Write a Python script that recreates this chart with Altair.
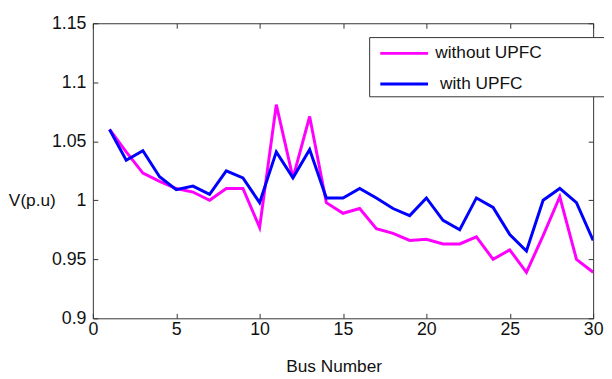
import altair as alt
import pandas as pd

bus = list(range(1, 31))
without_upfc = [1.060, 1.041, 1.023, 1.016, 1.010, 1.007, 1.000, 1.010, 1.010, 0.977,
                1.081, 1.019, 1.071, 0.998, 0.989, 0.993, 0.976, 0.972, 0.966, 0.967,
                0.963, 0.963, 0.969, 0.950, 0.958, 0.939, 0.970, 1.003, 0.950, 0.939]
with_upfc = [1.060, 1.034, 1.042, 1.020, 1.009, 1.012, 1.005, 1.025, 1.019, 0.998,
             1.041, 1.019, 1.043, 1.002, 1.002, 1.010, 1.002, 0.993, 0.987, 1.002,
             0.983, 0.975, 1.002, 0.994, 0.971, 0.957, 1.000, 1.010, 0.998, 0.966]
series_names = ["without UPFC", "with UPFC"]
series_colors = ["#FF00FF", "#0000FF"]
x_ticks = [0, 5, 10, 15, 20, 25, 30]
y_ticks = [0.9, 0.95, 1.0, 1.05, 1.1, 1.15]

rows = []
for b, v in zip(bus, without_upfc):
    rows.append({"bus": b, "v": v, "series": series_names[0]})
for b, v in zip(bus, with_upfc):
    rows.append({"bus": b, "v": v, "series": series_names[1]})
df = pd.DataFrame(rows)

FONT = "Liberation Sans"
NB = "\u00a0"
ZW = "\u200b"
label_expr = ("(datum.label == 'with UPFC' ? '" + ZW + NB + "' : '') + datum.label + '"
              + NB * 13 + ZW + "'")

x_scale = alt.Scale(domain=[0, 30], nice=False, zero=False)
y_scale = alt.Scale(domain=[0.9, 1.15], nice=False, zero=False)

lines = alt.Chart(df).mark_line(strokeWidth=3, clip=True).encode(
    x=alt.X("bus:Q", scale=x_scale,
            axis=alt.Axis(values=x_ticks, offset=-5, domain=False, tickSize=5,
                          tickColor="#333", labelPadding=2, labelFontSize=18,
                          labelFlush=False, labelOverlap=False, grid=False,
                          labelColor="#111", title="Bus Number", titleFontSize=17.5,
                          titleFontWeight="normal", titleColor="#111", titlePadding=20,
                          titleX=244)),
    y=alt.Y("v:Q", scale=y_scale,
            axis=alt.Axis(values=y_ticks, offset=-5, domain=False, tickSize=5,
                          tickColor="#333", labelPadding=7, labelFontSize=18,
                          format="~g", labelOverlap=False, grid=False,
                          labelColor="#111", title="V(p.u)", titleFontSize=17.5,
                          titleFontWeight="normal", titleColor="#111",
                          titleAngle=0, titleAlign="right", titleBaseline="middle",
                          titleX=-43, titleY=180)),
    color=alt.Color("series:N", sort=series_names,
                    scale=alt.Scale(domain=series_names, range=series_colors),
                    legend=alt.Legend(title=None, orient="none", legendX=280, legendY=14,
                                      symbolType="M-2.2,0H2.2", symbolSize=484,
                                      symbolStrokeWidth=3, labelFontSize=17.5,
                                      labelColor="#111", labelFont=FONT,
                                      strokeColor="#333", fillColor="white",
                                      padding=4, rowPadding=10, symbolOffset=19,
                                      labelOffset=19, labelLimit=400,
                                      labelExpr=label_expr)),
)

frame_axes = alt.Chart(df).mark_line(opacity=0).encode(
    x=alt.X("bus:Q", scale=x_scale,
            axis=alt.Axis(orient="top", values=x_ticks, offset=-5, domain=False,
                          tickSize=5, tickColor="#333", labels=False, title=None,
                          grid=False)),
    y=alt.Y("v:Q", scale=y_scale,
            axis=alt.Axis(orient="right", values=y_ticks, offset=-5, domain=False,
                          tickSize=5, tickColor="#333", labels=False, title=None,
                          grid=False)),
    detail="series:N",
)

chart = alt.layer(lines, frame_axes).resolve_axis(
    x="independent", y="independent"
).properties(
    width=507, height=299,
    autosize=alt.AutoSizeParams(type="none"),
    padding={"left": 86, "top": 13, "right": 11, "bottom": 57},
    background="white",
).configure(font=FONT).configure_view(stroke="#333", strokeWidth=1)

chart.save("out.html", embed_options={"renderer": "svg", "actions": False})
